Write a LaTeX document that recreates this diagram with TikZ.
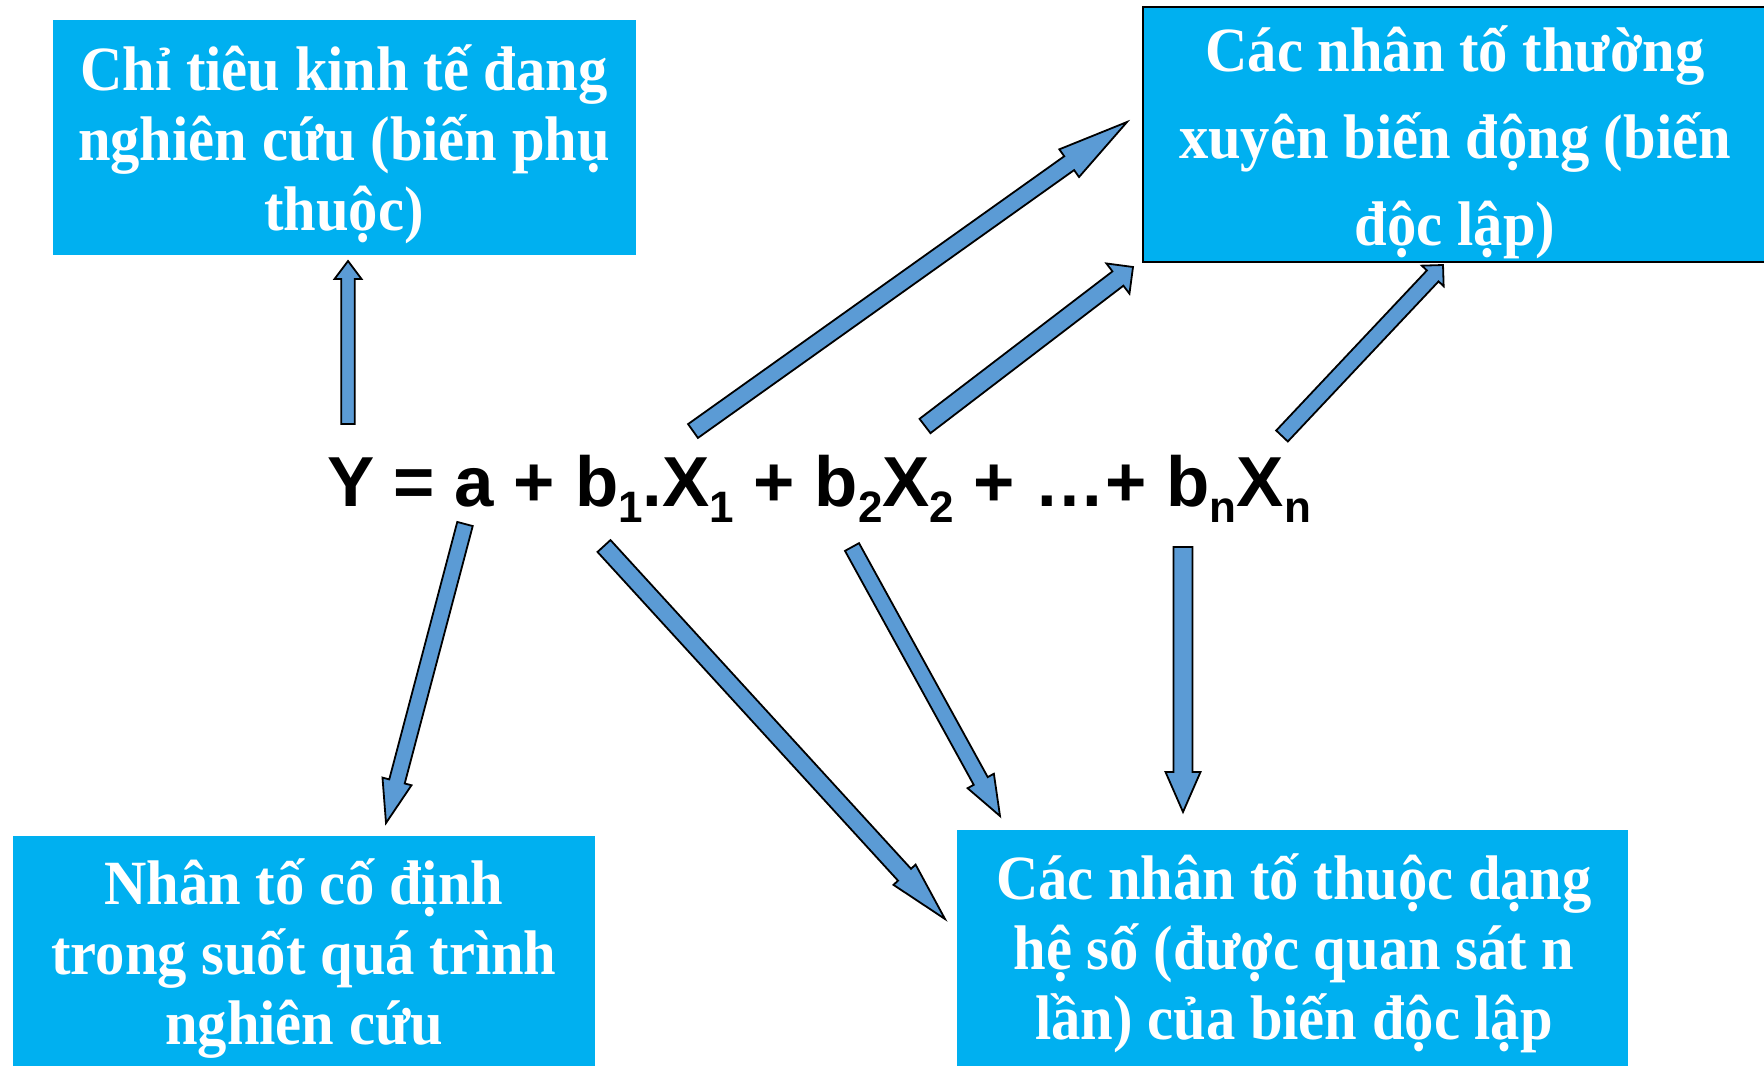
\documentclass[tikz,border=0pt]{standalone}
\usepackage{fontspec}
\usetikzlibrary{calc}
\newfontfamily\boxfont{Liberation Serif}[FakeStretch=0.93]
\newfontfamily\eqfont{Liberation Sans}
\definecolor{boxblue}{HTML}{00B0F0}
\definecolor{arrblue}{HTML}{5B9BD5}
\newcommand{\lowsub}[1]{\raisebox{-8pt}{\fontsize{22}{22}\selectfont #1}}
% tail, tip, half shaft width, half head width, head length
\newcommand{\blockarrow}[5]{%
  \coordinate (bh) at ($(#2)!#5!(#1)$);
  \draw[arrowbody] ($(#1)!#3!90:(#2)$) -- ($(bh)!#3!90:(#2)$) -- ($(bh)!#4!90:(#2)$) -- (#2)
    -- ($(bh)!#4!-90:(#2)$) -- ($(bh)!#3!-90:(#2)$) -- ($(#1)!#3!-90:(#2)$) -- cycle;}
\tikzset{
  boxshape/.style={rectangle, fill=boxblue, inner sep=0pt},
  boxtext/.style={text=white, align=center, inner sep=0pt,
    font=\boxfont\bfseries\fontsize{31.5}{35}\selectfont},
  arrowbody/.style={fill=arrblue, draw=black, line width=0.9pt, line join=miter},
}
\begin{document}
\begin{tikzpicture}[x=0.5pt, y=-0.5pt]
\useasboundingbox (0,0) rectangle (1764,1065);
\fill[white] (0,0) rectangle (1764,1065);
\clip (0,0) rectangle (1764,1065);

% boxes
\node[boxshape, minimum width=291.5pt, minimum height=117.5pt] (b1) at (344.5,137.5) {};
\node[boxshape, draw=black, line width=1.25pt, minimum width=312.5pt, minimum height=127.5pt] (b2) at (1455.5,134.5) {};
\node[boxshape, minimum width=291pt, minimum height=122pt] (b3) at (304,958) {};
\node[boxshape, minimum width=335.5pt, minimum height=125pt] (b4) at (1292.5,955) {};

% texts
\node[boxtext] (t1) at (344,144) {Chỉ tiêu kinh tế đang\\nghiên cứu (biến phụ\\thuộc)};
\node[boxtext, font=\boxfont\bfseries\fontsize{31.5}{43.5}\selectfont] (t2) at (1455,142) {Các nhân tố thường\\xuyên biến động (biến\\độc lập)};
\node[boxtext] (t3) at (304,959) {Nhân tố cố định\\trong suốt quá trình\\nghiên cứu};
\node[boxtext] (t4) at (1294,953) {Các nhân tố thuộc dạng\\hệ số (được quan sát n\\lần) của biến độc lập};

% equation
\node[anchor=base, inner sep=0pt, font=\eqfont\bfseries\fontsize{35.4}{40}\selectfont] (eq) at (819,506)
  {Y = a + b\lowsub{1}.X\lowsub{1} + b\lowsub{2}X\lowsub{2} + …+ b\lowsub{n}X\lowsub{n}};

% arrow end points
\coordinate (s1) at (348,424);  \coordinate (e1) at (348,261);
\coordinate (s2) at (693,431);  \coordinate (e2) at (1127,122);
\coordinate (s3) at (925,426);  \coordinate (e3) at (1133,267);
\coordinate (s4) at (1282,436); \coordinate (e4) at (1443,265);
\coordinate (s5) at (465,524);  \coordinate (e5) at (386,823);
\coordinate (s6) at (604,546);  \coordinate (e6) at (945,919);
\coordinate (s7) at (852,547);  \coordinate (e7) at (1000,816);
\coordinate (s8) at (1183,547); \coordinate (e8) at (1183,812);

\blockarrow{s1}{e1}{3.4pt}{6.75pt}{9pt}
\blockarrow{s2}{e2}{4.25pt}{8.5pt}{35.5pt}
\blockarrow{s3}{e3}{4.5pt}{9.5pt}{9.5pt}
\blockarrow{s4}{e4}{4pt}{7.5pt}{7.5pt}
\blockarrow{s5}{e5}{4pt}{7.5pt}{21.5pt}
\blockarrow{s6}{e6}{4.4pt}{7.5pt}{30pt}
\blockarrow{s7}{e7}{4pt}{7.5pt}{20pt}
\blockarrow{s8}{e8}{4.75pt}{8.75pt}{20pt}
\end{tikzpicture}
\end{document}
